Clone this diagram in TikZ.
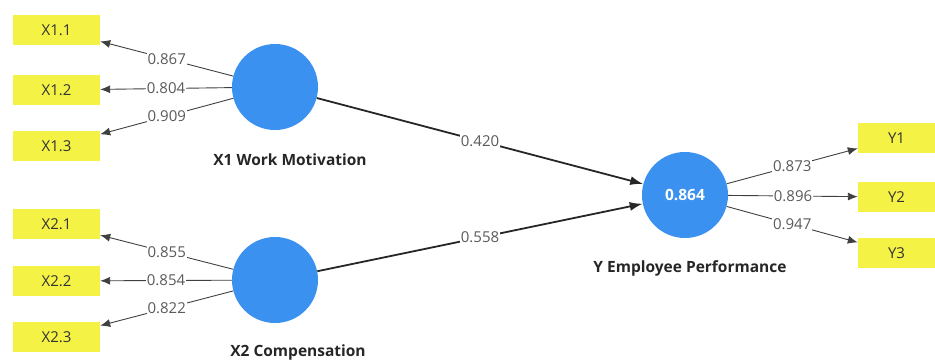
\documentclass[tikz,border=0pt]{standalone}
\usepackage{fontspec}
\setmainfont{Open Sans}
\usetikzlibrary{arrows.meta}
\definecolor{lvblue}{RGB}{58,145,240}
\definecolor{mvyellow}{RGB}{245,242,70}
\definecolor{lblgray}{RGB}{90,90,90}
\tikzset{
  x=1pt,y=-1pt,
  ind/.style={fill=mvyellow,draw=none,minimum width=87pt,minimum height=30pt,inner sep=0pt,font=\fontsize{15}{17}\selectfont,text=black!80},
  indy/.style={ind,minimum width=77pt},
  lv/.style={circle,fill=lvblue,draw=none,minimum size=86pt,inner sep=0pt},
  lvname/.style={font=\bfseries\fontsize{15.5}{18}\selectfont,text=black!85},
  load/.style={-{Latex[length=10pt,width=8pt]},draw=black!75,line width=0.9pt},
  path/.style={-{Latex[length=13pt,width=9pt]},draw=black!85,line width=1.8pt},
  coef/.style={fill=white,inner sep=1pt,font=\fontsize{15}{17}\selectfont,text=lblgray},
}
\begin{document}
\begin{tikzpicture}
\useasboundingbox (0,0) rectangle (935,360);
% indicator boxes
\node[ind] (x11) at (56.5,30) {X1.1};
\node[ind] (x12) at (56.5,90) {X1.2};
\node[ind] (x13) at (56.5,146) {X1.3};
\node[ind] (x21) at (56.5,224) {X2.1};
\node[ind] (x22) at (56.5,281) {X2.2};
\node[ind] (x23) at (56.5,337) {X2.3};
\node[indy] (y1) at (896.5,138) {Y1};
\node[indy] (y2) at (896.5,197) {Y2};
\node[indy] (y3) at (896.5,253) {Y3};
% latent variables
\node[lv] (X1) at (275,87) {};
\node[lv] (X2) at (275,280) {};
\node[lv,text=white,font=\bfseries\fontsize{15.5}{17}\selectfont] (Y) at (685,195) {0.864};
\node[lvname] (n1) at (290,160) {X1 Work Motivation};
\node[lvname] (n2) at (298,352) {X2 Compensation};
\node[lvname] (n3) at (690,268) {Y Employee Performance};
% outer loadings
\draw[load] (X1) -- node[coef]{0.867} (x11);
\draw[load] (X1) -- node[coef]{0.804} (x12);
\draw[load] (X1) -- node[coef]{0.909} (x13);
\draw[load] (X2) -- node[coef]{0.855} (x21);
\draw[load] (X2) -- node[coef]{0.854} (x22);
\draw[load] (X2) -- node[coef]{0.822} (x23);
\draw[load] (Y) -- node[coef]{0.873} (y1);
\draw[load] (Y) -- node[coef]{0.896} (y2);
\draw[load] (Y) -- node[coef]{0.947} (y3);
% path coefficients
\draw[path] (X1) -- node[coef]{0.420} (Y);
\draw[path] (X2) -- node[coef]{0.558} (Y);
\end{tikzpicture}
\end{document}
